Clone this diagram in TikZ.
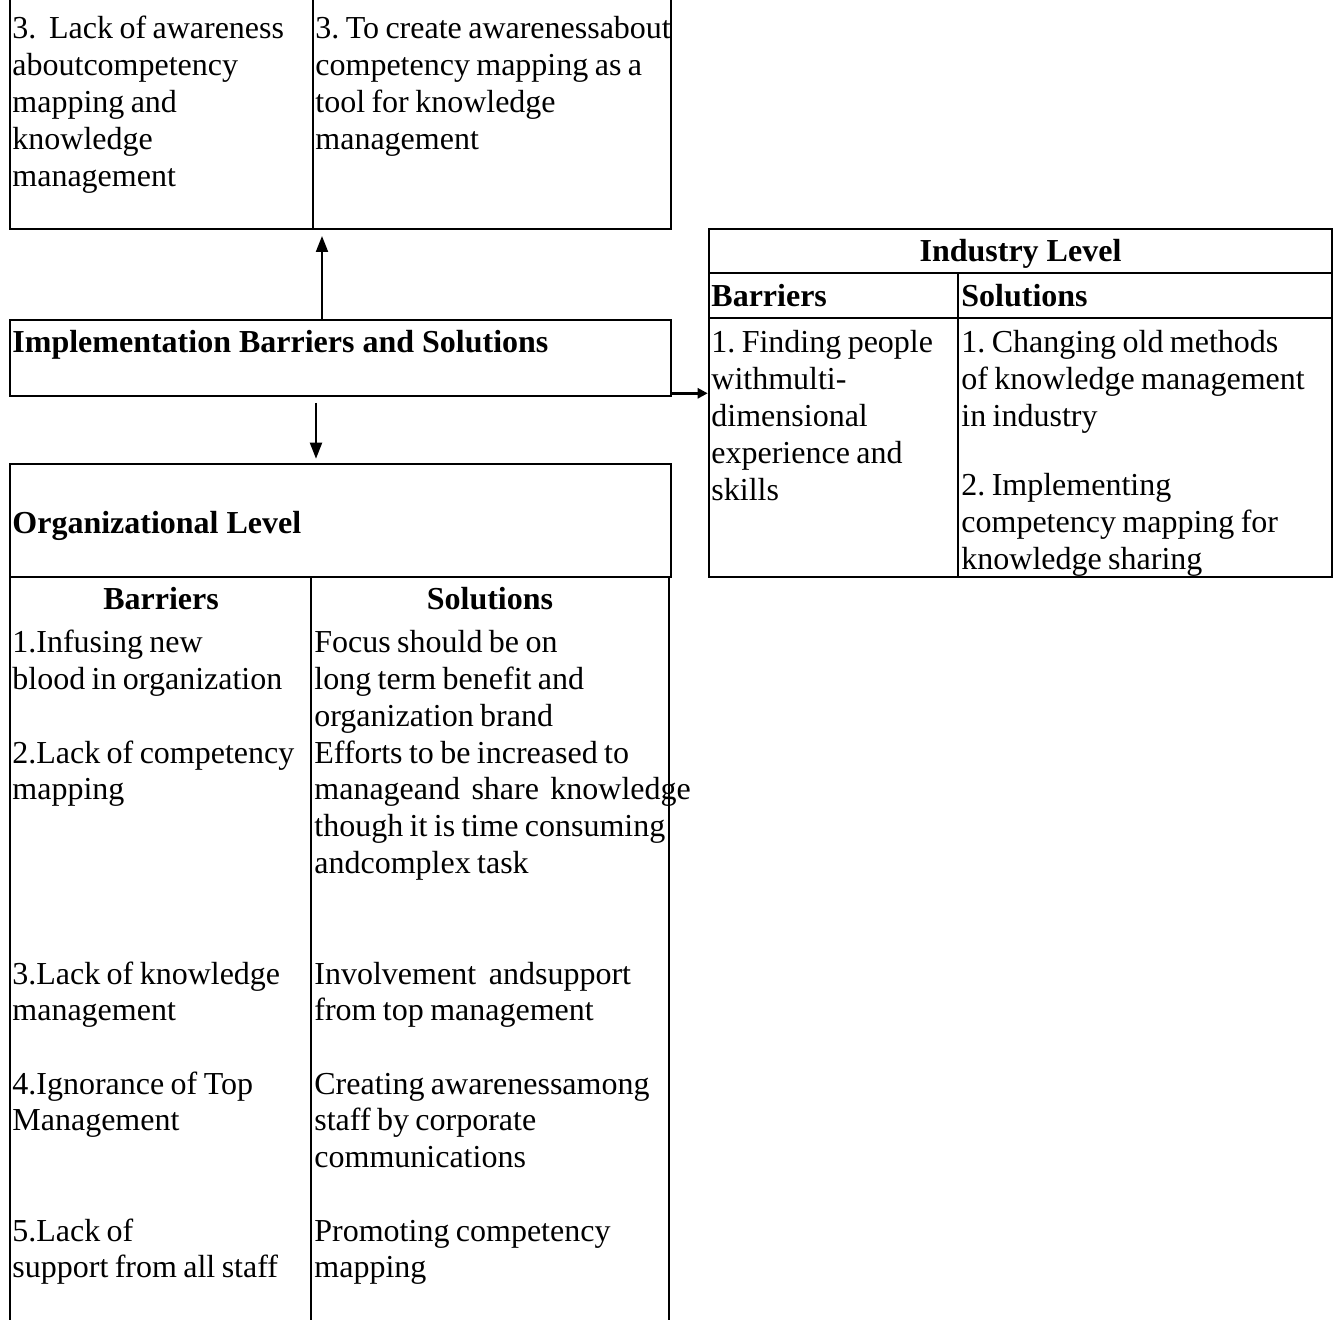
\documentclass[tikz,border=0pt]{standalone}
\usepackage{fontspec}
\setmainfont{Liberation Serif}
\usetikzlibrary{positioning}
\usetikzlibrary{fit}
\usetikzlibrary{arrows.meta}
\frenchspacing

\tikzset{
  frame/.style={draw, line width=1.3pt, inner sep=0pt},
  rule/.style={line width=1.3pt},
  cell/.style={anchor=base west, inner sep=0pt, text width=200pt, font=\fontsize{16}{18.4}\selectfont,
    execute at begin node={\spaceskip=0.2em\relax}},
  head/.style={anchor=base west, inner sep=0pt, font=\fontsize{16}{18.4}\selectfont\bfseries},
  link/.style={line width=1pt, -{Triangle[length=8pt,width=6pt]}}
}

\begin{document}
\begin{tikzpicture}[x=0.5pt,y=-0.5pt]
  \useasboundingbox (0,0) rectangle (1334,1320);

  % top box, cut off at the top
  \draw[rule] (10,0) -- (10,229) -- (671,229) -- (671,0);
  \draw[rule] (313,0) -- (313,229);
  \node[cell] (topbar) at (12,39) {3.\ \ Lack of awareness\\aboutcompetency\\mapping and\\knowledge\\management};
  \node[cell] (topsol) at (315,39) {3. To create awarenessabout\\competency mapping as a\\tool for knowledge\\management};

  % implementation box
  \node[frame, fit={(10,320) (671,396)}] (impl) {};
  \node[head] (impltxt) at (12,353) {Implementation Barriers and Solutions};

  % organizational level
  \node[frame, fit={(10,464) (671,577)}] (org) {};
  \node[head] (orgtxt) at (12,534) {Organizational Level};
  \draw[rule] (10,577) -- (10,1320);
  \draw[rule] (669,577) -- (669,1320);
  \draw[rule] (311,577) -- (311,1320);
  \node[head, anchor=base] (orgbar) at (161,610) {Barriers};
  \node[head, anchor=base] (orgsol) at (490,610) {Solutions};

  \node[cell] (b1) at (12,653) {1.Infusing new\\blood in organization};
  \node[cell] (b2) at (12,763) {2.Lack of competency\\mapping};
  \node[cell] (b3) at (12,984) {3.Lack of knowledge\\management};
  \node[cell] (b4) at (12,1094) {4.Ignorance of Top\\Management};
  \node[cell] (b5) at (12,1241) {5.Lack of\\support from all staff};

  \node[cell] (s1) at (314,653) {Focus should be on\\long term benefit and\\organization brand};
  \node[cell] (s2) at (314,763) {Efforts to be increased to\\manageand\hspace{2.5pt} share\hspace{2.5pt} knowledge\\though it is time consuming\\andcomplex task};
  \node[cell] (s3) at (314,984) {Involvement\ \ andsupport\\from top management};
  \node[cell] (s4) at (314,1094) {Creating awarenessamong\\staff by corporate\\communications};
  \node[cell] (s5) at (314,1241) {Promoting competency\\mapping};

  % industry level
  \node[frame, fit={(709,229) (1332,577)}] (ind) {};
  \draw[rule] (709,273) -- (1332,273);
  \draw[rule] (709,318) -- (1332,318);
  \draw[rule] (958,273) -- (958,577);
  \node[head, anchor=base] (indtxt) at (1020.5,262) {Industry Level};
  \node[head] (indbar) at (711,307) {Barriers};
  \node[head] (indsol) at (961,307) {Solutions};
  \node[cell] (ib1) at (711,353) {1. Finding people\\withmulti-\\dimensional\\experience and\\skills};
  \node[cell] (is1) at (961,353) {1. Changing old methods\\of knowledge management\\in industry};
  \node[cell] (is2) at (961,496) {2. Implementing\\competency mapping for\\knowledge sharing};

  % arrows
  \coordinate (upend) at (322,236);
  \draw[link] (impl.north -| upend) -- (upend);
  \coordinate (downstart) at (316,403);
  \draw[link] (downstart) -- ([yshift=2pt]downstart |- org.north);
  \coordinate (rstart) at ([yshift=2pt]impl.south east);
  \draw[line width=1.3pt, -{Triangle[length=5pt,width=5pt]}] (rstart) -- (rstart -| ind.west);
\end{tikzpicture}
\end{document}
